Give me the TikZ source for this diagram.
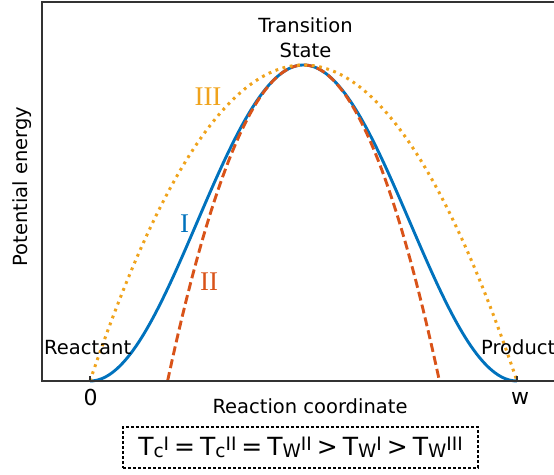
\documentclass[tikz,border=0pt]{standalone}
\usepackage{fontspec}
\setmainfont{DejaVu Sans}
\newfontfamily\romfont{Liberation Serif}
\definecolor{curveblue}{RGB}{0,114,189}
\definecolor{curvered}{RGB}{217,83,25}
\definecolor{curveorange}{RGB}{240,163,28}
\definecolor{spinegray}{RGB}{51,51,51}
\newcommand{\Tsym}[2]{T\raisebox{-2.5pt}{\fontsize{18.5}{18.5}\selectfont #1}\raisebox{5pt}{\fontsize{18.5}{18.5}\selectfont #2}}
\newcommand{\rel}[1]{\hspace{5pt}#1\hspace{5pt}}
\tikzset{
  axislabel/.style={
    inner sep=0pt, font=\fontsize{19.5}{25.5}\selectfont, text=black
  },
  ticklabel/.style={
    inner sep=0pt, anchor=base, font=\fontsize{22}{22}\selectfont, text=black
  },
  romanlabel/.style={
    inner sep=0pt, font=\romfont\fontsize{27}{27}\selectfont, text=#1
  },
  spine/.style={draw=spinegray, line width=2.2pt, line join=miter},
  tickmark/.style={draw=spinegray, line width=1.6pt},
  curveI/.style={draw=curveblue, line width=2.9pt},
  curveII/.style={draw=curvered, line width=2.9pt, dash pattern=on 9pt off 4.2pt},
  curveIII/.style={draw=curveorange, line width=3pt, dash pattern=on 2.8pt off 4.6pt},
  formulabox/.style={
    draw=black, line width=1.1pt, dash pattern=on 3pt off 2pt,
    inner sep=0pt, minimum width=355pt, minimum height=41pt,
    font=\fontsize{25}{25}\selectfont
  },
}

\begin{document}
\begin{tikzpicture}[x=1pt, y=-1pt]
  \useasboundingbox (0,0) rectangle (554,474);
  \coordinate (topleft)  at (42,2);
  \coordinate (botleft)  at (42,381);
  \coordinate (topright) at (570,2);
  \coordinate (botright) at (570,381);
  \coordinate (tickzero) at (90,381);
  \coordinate (tickw)    at (517,381);

  \draw[curveI]   plot[domain=0:1, samples=160] ({90+427*\x}, {381-158*(1-cos(360*\x))});
  \draw[curveII]  plot[domain=0.18169:0.81831, samples=120] ({90+427*\x}, {381-316*(1-9.8696*(\x-0.5)^2)});
  \draw[curveIII] plot[domain=0:1, samples=160] ({90+427*\x}, {381-1264*\x*(1-\x)});

  \draw[spine] (topright) -- (topleft) -- (botleft) -- (botright);
  \draw[tickmark] (tickzero) -- ++(0,-5);
  \draw[tickmark] (tickw) -- ++(0,-5);

  \node[axislabel, anchor=north, align=center] (ts) at (305.5,17.2) {Transition\\State};
  \node[axislabel, anchor=base west] (reactant) at (44,354) {Reactant};
  \node[axislabel, anchor=base west] (product)  at (481,354) {Product};
  \node[ticklabel] (zerolabel) at (90.5,405.5) {0};
  \node[ticklabel] (wlabel)    at (520,404.5) {w};
  \node[axislabel] (xlabel) at (310,406) {Reaction coordinate};
  \node[axislabel, rotate=90] (ylabel) at (22,186.5) {Potential energy};

  \node[romanlabel=curveblue]   (labI)   at (184.5,223.5) {I};
  \node[romanlabel=curvered]    (labII)  at (209,281.5) {II};
  \node[romanlabel=curveorange] (labIII) at (208,96.5) {III};

  \node[formulabox] (tbox) at (300.5,447.5)
    {\Tsym{c}{I}\rel{=}\Tsym{c}{II}\rel{=}\Tsym{W}{II}\rel{>}\Tsym{W}{I}\rel{>}\Tsym{W}{III}};
\end{tikzpicture}
\end{document}
